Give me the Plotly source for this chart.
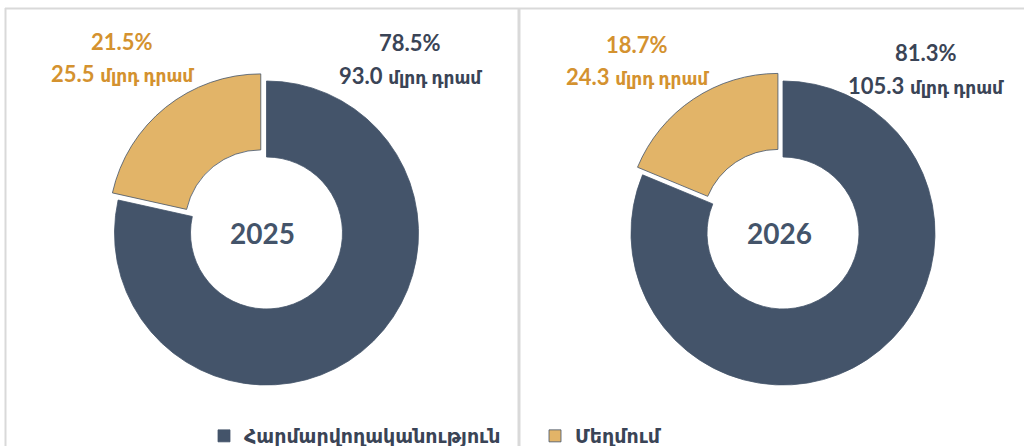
import plotly.graph_objects as go

categories = ["Հարմարվողականություն", "Մեղմում"]
years = ["2025", "2026"]
values_2025 = [93.0, 25.5]
values_2026 = [105.3, 24.3]
pct_2025 = [78.5, 21.5]
pct_2026 = [81.3, 18.7]
unit = "մլրդ դրամ"

slice_colors = ["#44546A", "#E2B468"]
text_colors = ["#3A4456", "#D4922F"]
FONT = "Lato, 'DejaVu Sans', sans-serif"

W, H = 1024, 446
R, PULL, HOLE = 152, 0.06, 0.5
centers = [(266.5, 233), (783, 233)]


def domain(cx, cy):
    half = R * (1 + PULL)
    return dict(x=[(cx - half) / W, (cx + half) / W],
                y=[(H - cy - half) / H, (H - cy + half) / H])


fig = go.Figure()
for i, vals in enumerate([values_2025, values_2026]):
    cx, cy = centers[i]
    fig.add_trace(go.Pie(
        labels=categories, values=vals, hole=HOLE, sort=False,
        direction="clockwise", rotation=0, pull=[0, PULL],
        marker=dict(colors=slice_colors, line=dict(color="#44546A", width=0.8)),
        textinfo="none", hoverinfo="label+value+percent",
        domain=domain(cx, cy), showlegend=(i == 0),
    ))

# label positions (pixels): (x, y of percent, y of value)
label_pos = [
    [(410, 43, 75), (122, 41, 73)],
    [(926, 52, 85), (637, 45, 77)],
]
ann = []
for i, (vals, pcts) in enumerate([(values_2025, pct_2025), (values_2026, pct_2026)]):
    for j, (v, p) in enumerate(zip(vals, pcts)):
        x, yp, yv = label_pos[i][j]
        ann.append(dict(x=x / W, y=1 - yp / H, xref="paper", yref="paper",
                        xanchor="center", yanchor="middle",
                        text=f"<b>{p:.1f}%</b>", showarrow=False,
                        font=dict(family=FONT, size=22, color=text_colors[j])))
        ann.append(dict(x=x / W, y=1 - yv / H, xref="paper", yref="paper",
                        xanchor="center", yanchor="middle",
                        text=f"<b>{v:.1f}</b> <span style='font-size:17px'><b>{unit}</b></span>",
                        showarrow=False,
                        font=dict(family=FONT, size=22, color=text_colors[j])))
    cx, cy = centers[i]
    ann.append(dict(x=(cx - 4) / W, y=1 - cy / H, xref="paper", yref="paper",
                    xanchor="center", yanchor="middle",
                    text=f"<b>{years[i]}</b>", showarrow=False,
                    font=dict(family=FONT, size=28, color="#44546A")))

grid = "#D9D9D9"
shapes = [
    dict(type="line", xref="paper", yref="paper", x0=5 / W, x1=1, y0=1 - 8.5 / H, y1=1 - 8.5 / H,
         line=dict(color=grid, width=2), layer="below"),
    dict(type="line", xref="paper", yref="paper", x0=5.5 / W, x1=5.5 / W, y0=0, y1=1 - 8 / H,
         line=dict(color=grid, width=2), layer="below"),
    dict(type="line", xref="paper", yref="paper", x0=519 / W, x1=519 / W, y0=0, y1=1 - 8 / H,
         line=dict(color=grid, width=3), layer="below"),
]

fig.update_layout(
    width=W, height=H, margin=dict(l=0, r=0, t=0, b=0, autoexpand=False),
    paper_bgcolor="white", plot_bgcolor="white",
    annotations=ann, shapes=shapes,
    legend=dict(orientation="h", x=204 / W, y=(H - 436) / H, xanchor="left", yanchor="middle",
                font=dict(family=FONT, size=19, color="#3A4456", weight="bold"),
                entrywidth=286, entrywidthmode="pixels", bgcolor="rgba(0,0,0,0)"),
)
fig.write_html("out.html", config={"displayModeBar": False},
               post_script="document.body.style.margin='0';document.body.style.overflow='hidden';")
